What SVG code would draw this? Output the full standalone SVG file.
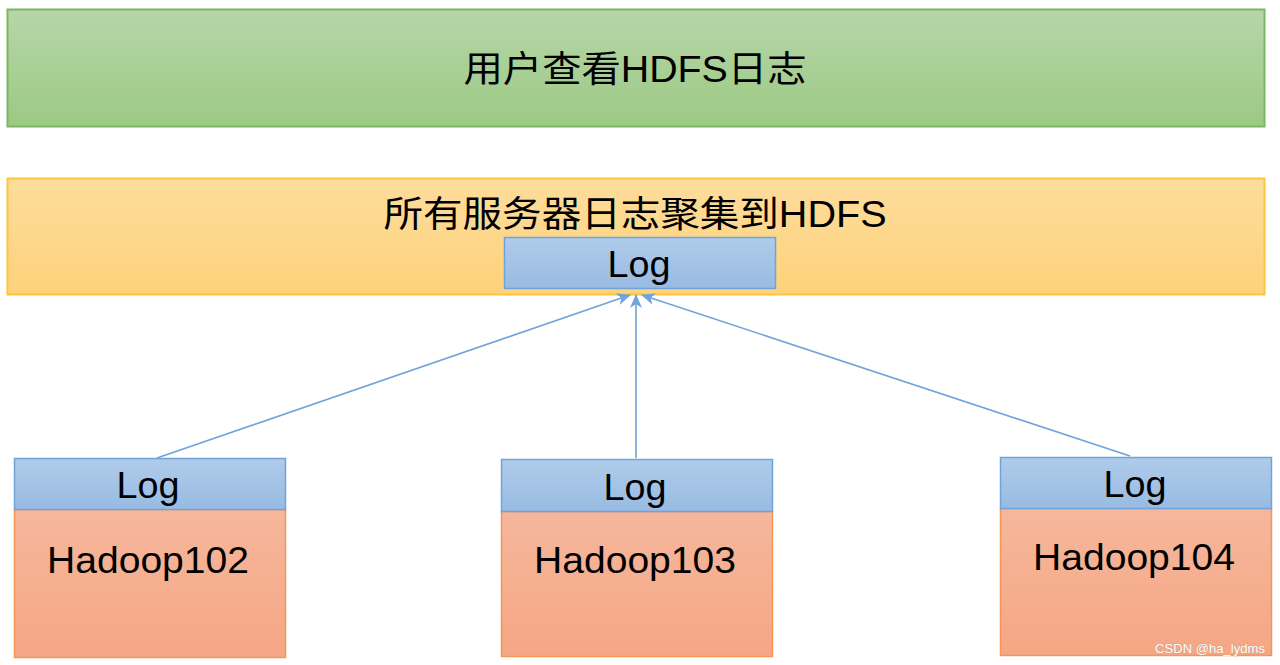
<svg xmlns="http://www.w3.org/2000/svg" width="1280" height="665" viewBox="0 0 1280 665">
<style>
.t{font-family:"Liberation Sans","Noto Sans CJK SC",Arial,sans-serif;fill:#000;text-anchor:middle}
.big{font-size:36px}
.log{font-size:36px}
.node{font-size:37px}
.conn{stroke:#6fa3d9;stroke-width:1.6;fill:none}
</style>
<defs>
<linearGradient id="gG" x1="0" y1="0" x2="0" y2="1"><stop offset="0" stop-color="#b6d6a8"/><stop offset="1" stop-color="#9cc984"/></linearGradient>
<linearGradient id="gY" x1="0" y1="0" x2="0" y2="1"><stop offset="0" stop-color="#fedc9c"/><stop offset="1" stop-color="#fdd27a"/></linearGradient>
<linearGradient id="gB" x1="0" y1="0" x2="0" y2="1"><stop offset="0" stop-color="#b0cbea"/><stop offset="1" stop-color="#98bbe2"/></linearGradient>
<linearGradient id="gO" x1="0" y1="0" x2="0" y2="1"><stop offset="0" stop-color="#f5b79c"/><stop offset="1" stop-color="#f6a684"/></linearGradient>
<marker id="ah" viewBox="0 0 14 12" refX="13" refY="6" markerWidth="14" markerHeight="12" markerUnits="userSpaceOnUse" orient="auto"><path d="M0,0 L14,6 L0,12 L4,6 Z" fill="#6fa3d9"/></marker>
</defs>
<g id="user">
<rect x="7.5" y="9.5" width="1257" height="117" fill="url(#gG)" stroke="#7db660" stroke-width="2"/>
<text class="t big" x="635" y="82" textLength="343" lengthAdjust="spacingAndGlyphs">用户查看HDFS日志</text>
</g>
<g id="hdfs">
<rect x="7.5" y="178.5" width="1257" height="116" fill="url(#gY)" stroke="#fcc53e" stroke-width="2"/>
<text class="t big" x="635" y="227" textLength="503" lengthAdjust="spacingAndGlyphs">所有服务器日志聚集到HDFS</text>
</g>
<g id="hdfslog">
<rect x="504.5" y="237.5" width="271" height="51" fill="url(#gB)" stroke="#6fa3d9" stroke-width="1.5"/>
<text class="t log" x="639" y="277" textLength="63" lengthAdjust="spacingAndGlyphs">Log</text>
</g>
<g id="connectors">
<line class="conn" x1="157" y1="458" x2="630" y2="295" marker-end="url(#ah)"/>
<line class="conn" x1="636" y1="458" x2="636" y2="295" marker-end="url(#ah)"/>
<line class="conn" x1="1130" y1="456" x2="642" y2="295" marker-end="url(#ah)"/>
</g>
<g id="hadoop102">
<rect x="14.5" y="509.5" width="271" height="148" fill="url(#gO)" stroke="#f39656" stroke-width="1.5"/>
<rect x="14.5" y="458.5" width="271" height="51" fill="url(#gB)" stroke="#6fa3d9" stroke-width="1.5"/>
<text class="t log" x="148" y="498" textLength="63" lengthAdjust="spacingAndGlyphs">Log</text>
<text class="t node" x="148" y="573" textLength="202" lengthAdjust="spacingAndGlyphs">Hadoop102</text>
</g>
<g id="hadoop103">
<rect x="501.5" y="511.5" width="271" height="145" fill="url(#gO)" stroke="#f39656" stroke-width="1.5"/>
<rect x="501.5" y="459.5" width="271" height="52" fill="url(#gB)" stroke="#6fa3d9" stroke-width="1.5"/>
<text class="t log" x="635" y="500" textLength="63" lengthAdjust="spacingAndGlyphs">Log</text>
<text class="t node" x="635" y="573" textLength="202" lengthAdjust="spacingAndGlyphs">Hadoop103</text>
</g>
<g id="hadoop104">
<rect x="1000.5" y="508.5" width="271" height="147" fill="url(#gO)" stroke="#f39656" stroke-width="1.5"/>
<rect x="1000.5" y="457.5" width="271" height="51" fill="url(#gB)" stroke="#6fa3d9" stroke-width="1.5"/>
<text class="t log" x="1135" y="497" textLength="63" lengthAdjust="spacingAndGlyphs">Log</text>
<text class="t node" x="1134" y="570" textLength="202" lengthAdjust="spacingAndGlyphs">Hadoop104</text>
</g>
<text x="1210" y="653" style="font-family:'Liberation Sans',Arial,sans-serif;font-size:13px;fill:#ffffff;text-anchor:middle;stroke:#b09080;stroke-width:0.4;paint-order:stroke" textLength="110" lengthAdjust="spacingAndGlyphs">CSDN @ha_lydms</text>
</svg>
